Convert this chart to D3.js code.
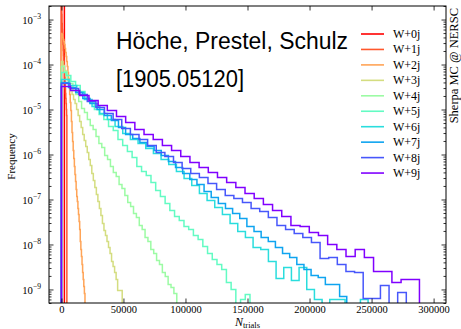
<!DOCTYPE html>
<html>
<head>
<meta charset="utf-8">
<script src="https://cdn.jsdelivr.net/npm/d3@7/dist/d3.min.js"></script>
<style>
  body { margin: 0; background: #fff; }
  svg { display: block; }
</style>
</head>
<body>
<div id="chart"></div>
<script>
// legend names, one histogram per jet multiplicity
var seriesLabels = ["W+0j", "W+1j", "W+2j", "W+3j", "W+4j", "W+5j", "W+6j", "W+7j", "W+8j", "W+9j"];

// bin width (in N_trials) of each histogram, all start at 0
var binWidths = [240, 220, 475, 1225, 2325, 3800, 6180, 5750, 6950, 7400];

// frequency per bin (0 = empty bin)
var freqW0 = [1.4e-2, 9.5e-3, 7.2e-3, 5.8e-3, 4.9e-3, 4.2e-3, 3.7e-3, 3.2e-3, 2.8e-3, 2.4e-3];
var freqW1 = [2.15e-3, 1.29e-3, 8.15e-4, 6.0e-4, 4.89e-4, 3.59e-4, 2.78e-4, 2.05e-4, 1.58e-4, 1.23e-4,
    9.03e-5, 6.99e-5, 5.14e-5, 3.98e-5, 2.93e-5, 2.27e-5, 1.76e-5, 1.36e-5, 1.0e-5, 7.36e-6];
var freqW2 = [4.89e-4, 4.64e-4, 3.98e-4, 3.59e-4, 3.24e-4, 2.78e-4, 2.27e-4, 1.85e-4, 1.51e-4, 1.17e-4,
    9.03e-5, 6.65e-5, 4.89e-5, 3.41e-5, 2.15e-5, 1.43e-5, 9.5e-6, 5.41e-6, 3.08e-6, 1.95e-6,
    1.23e-6, 8.15e-7, 5.41e-7, 3.59e-7, 2.51e-7, 1.67e-7, 1.17e-7, 9.03e-8, 6.31e-8, 4.64e-8,
    3.24e-8, 2.15e-8, 1.17e-8, 7.74e-9, 5.41e-9, 3.59e-9, 2.39e-9, 1.67e-9, 1.17e-9, 8.15e-10];
var freqW3 = [1.17e-4, 9.5e-5, 7.36e-5, 5.70e-5, 4.41e-5, 3.41e-5, 2.64e-5, 2.15e-5, 1.67e-5, 1.36e-5,
    1.0e-5, 7.36e-6, 5.41e-6, 3.98e-6, 2.78e-6, 2.05e-6, 1.51e-6, 1.11e-6, 7.74e-7, 5.70e-7,
    3.78e-7, 2.64e-7, 1.85e-7, 1.29e-7, 9.03e-8, 6.31e-8, 4.41e-8, 2.93e-8, 2.05e-8, 1.58e-8,
    1.17e-8, 8.58e-9, 6.31e-9, 4.19e-9, 3.24e-9, 2.39e-9, 1.67e-9, 9.5e-10, 9.5e-10, 9.5e-10];
var freqW4 = [9.03e-5, 6.99e-5, 4.64e-5, 3.78e-5, 2.64e-5, 2.15e-5, 1.51e-5, 1.05e-5, 8.58e-6, 6.0e-6,
    4.41e-6, 3.59e-6, 2.51e-6, 1.76e-6, 1.43e-6, 9.5e-7, 7.74e-7, 5.41e-7, 3.98e-7, 3.24e-7,
    2.15e-7, 1.76e-7, 1.23e-7, 8.58e-8, 6.99e-8, 4.89e-8, 3.98e-8, 2.64e-8, 2.15e-8, 1.43e-8,
    1.17e-8, 7.74e-9, 6.31e-9, 4.41e-9, 3.59e-9, 2.39e-9, 1.95e-9, 1.29e-9, 1.11e-9, 8.15e-10];
var freqW5 = [6.65e-5, 5.70e-5, 4.19e-5, 3.41e-5, 2.51e-5, 1.76e-5, 1.43e-5, 1.0e-5, 7.74e-6, 6.0e-6,
    4.19e-6, 3.41e-6, 2.15e-6, 1.58e-6, 1.17e-6, 8.58e-7, 5.41e-7, 4.19e-7, 3.41e-7, 2.39e-7,
    1.58e-7, 1.17e-7, 8.15e-8, 5.70e-8, 4.19e-8, 3.41e-8, 2.51e-8, 2.15e-8, 1.58e-8, 1.29e-8,
    9.03e-9, 6.31e-9, 4.64e-9, 3.59e-9, 2.78e-9, 1.43e-9, 1.0e-9, 0, 6.0e-10, 7.74e-10];
var freqW6 = [4.64e-5, 3.41e-5, 2.39e-5, 1.67e-5, 1.17e-5, 8.15e-6, 6.0e-6, 4.19e-6, 2.93e-6, 2.15e-6,
    1.76e-6, 1.36e-6, 1.05e-6, 7.74e-7, 6.0e-7, 4.19e-7, 2.93e-7, 2.05e-7, 1.36e-7, 9.5e-8,
    6.65e-8, 4.64e-8, 2.93e-8, 1.95e-8, 1.43e-8, 8.58e-9, 7.74e-9, 4.19e-9, 1.76e-9, 3.08e-9,
    1.58e-9, 3.08e-9, 1.0e-9, 6.0e-10, 0, 6.0e-10, 6.0e-10, 0, 0, 6.0e-10];
var freqW7 = [3.98e-5, 3.08e-5, 2.39e-5, 1.76e-5, 1.36e-5, 1.0e-5, 7.36e-6, 5.70e-6, 3.98e-6, 2.78e-6,
    2.27e-6, 1.85e-6, 1.51e-6, 1.23e-6, 9.5e-7, 6.99e-7, 5.14e-7, 3.78e-7, 2.78e-7, 2.15e-7,
    1.51e-7, 1.11e-7, 8.15e-8, 6.31e-8, 4.89e-8, 3.78e-8, 2.51e-8, 1.95e-8, 1.43e-8, 1.17e-8,
    8.58e-9, 6.31e-9, 5.14e-9, 3.59e-9, 2.78e-9, 2.05e-9, 1.85e-9, 1.29e-9, 1.29e-9, 6.99e-10];
var freqW8 = [3.78e-5, 2.93e-5, 2.15e-5, 1.51e-5, 1.11e-5, 8.15e-6, 6.0e-6, 3.78e-6, 2.78e-6, 2.15e-6,
    1.58e-6, 1.11e-6, 9.03e-7, 6.65e-7, 4.89e-7, 3.78e-7, 3.08e-7, 2.27e-7, 1.67e-7, 1.23e-7,
    1.05e-7, 8.58e-8, 6.31e-8, 5.41e-8, 3.98e-8, 2.64e-8, 2.15e-8, 1.76e-8, 1.43e-8, 1.11e-8,
    4.89e-9, 5.14e-9, 3.59e-9, 2.51e-9, 2.39e-9, 6.31e-10, 6.31e-10, 1.23e-9, 0, 8.58e-10];
var freqW9 = [3.24e-5, 2.64e-5, 2.05e-5, 1.58e-5, 1.23e-5, 9.5e-6, 7.0e-6, 5.14e-6, 3.59e-6, 2.78e-6,
    2.15e-6, 1.58e-6, 1.23e-6, 9.03e-7, 6.65e-7, 5.14e-7, 3.98e-7, 3.08e-7, 2.39e-7, 1.85e-7,
    1.36e-7, 1.05e-7, 7.74e-8, 5.70e-8, 4.19e-8, 2.64e-8, 2.51e-8, 1.85e-8, 1.58e-8, 1.0e-8,
    7.74e-9, 5.41e-9, 7.74e-9, 5.14e-9, 2.51e-9, 2.51e-9, 1.43e-9, 1.67e-9, 1.67e-9];

var allFreqs = [freqW0, freqW1, freqW2, freqW3, freqW4, freqW5, freqW6, freqW7, freqW8, freqW9];

var xTicks = [0, 50000, 100000, 150000, 200000, 250000, 300000];
var yTicks = [1e-9, 1e-8, 1e-7, 1e-6, 1e-5, 1e-4, 1e-3];
var xDomain = [-10000, 310000];
var yDomain = [5e-10, 2e-3];

// matplotlib "rainbow", reversed
var colors = ["#ff0000", "#ff572c", "#ffa457", "#d4dd80", "#9cfba4",
              "#63fbc3", "#2adddd", "#0ea4f0", "#4757fb", "#8000ff"];

var W = 461, H = 329;
var margin = { top: 6, right: 15, bottom: 26, left: 49 },
    width = W - margin.left - margin.right,
    height = H - margin.top - margin.bottom;

var svg = d3.select("#chart").append("svg")
    .attr("width", W)
    .attr("height", H)
    .style("background", "#fff");

var g = svg.append("g")
    .attr("transform", "translate(" + margin.left + "," + margin.top + ")");

var x = d3.scaleLinear().domain(xDomain).range([0, width]);
var y = d3.scaleLog().domain(yDomain).range([height, 0]);

g.append("clipPath").attr("id", "plotclip")
    .append("rect").attr("width", width).attr("height", height);

// step outline like histtype='step'
function stepPoints(values, bw) {
    var below = height + 20;
    var pts = [[x(0), below]];
    values.forEach(function (v, k) {
        var yy = v > 0 ? y(v) : below;
        pts.push([x(k * bw), yy]);
        pts.push([x((k + 1) * bw), yy]);
    });
    pts.push([x(values.length * bw), below]);
    return pts;
}

var plot = g.append("g").attr("clip-path", "url(#plotclip)");
allFreqs.forEach(function (vals, i) {
    plot.append("path")
        .attr("d", d3.line()(stepPoints(vals, binWidths[i])))
        .attr("fill", "none")
        .attr("stroke", colors[i])
        .attr("stroke-width", 1.5)
        .attr("stroke-linejoin", "miter");
});

// minor log ticks
var minorTicks = [];
for (var e = -10; e <= -3; e++) {
    for (var m = 2; m <= 9; m++) {
        var v = m * Math.pow(10, e);
        if (v >= yDomain[0] && v <= yDomain[1]) minorTicks.push(v);
    }
}

var serif = "'Liberation Serif', 'DejaVu Serif', serif";

function styleAxis(sel) {
    sel.select(".domain").remove();
    sel.selectAll(".tick line").attr("stroke", "#000").attr("stroke-width", 0.8);
    sel.selectAll("text").attr("font-family", serif).attr("fill", "#000");
}

// bottom
var gx = g.append("g").attr("transform", "translate(0," + height + ")")
    .call(d3.axisBottom(x).tickValues(xTicks).tickSize(-4.5).tickPadding(2.5).tickFormat(d3.format("d")));
styleAxis(gx);
gx.selectAll("text").attr("font-size", "10.5px");

// top
var gxt = g.append("g")
    .call(d3.axisTop(x).tickValues(xTicks).tickSize(-4.5).tickFormat(""));
styleAxis(gxt);

// left, major + minor
var gy = g.append("g")
    .call(d3.axisLeft(y).tickValues(yTicks).tickSize(-4.5).tickPadding(8).tickFormat(function () { return ""; }));
styleAxis(gy);
gy.selectAll(".tick text").each(function (d) {
    var t = d3.select(this);
    t.attr("dy", "0.36em");
    t.append("tspan").attr("font-size", "10.7px").text("10");
    t.append("tspan").attr("font-size", "7.6px").attr("dy", "-0.62em")
        .text("\u2212" + Math.round(-Math.log10(d)));
});
var gym = g.append("g")
    .call(d3.axisLeft(y).tickValues(minorTicks).tickSize(-2.5).tickFormat(""));
styleAxis(gym);

// right, major + minor
var gr = g.append("g").attr("transform", "translate(" + width + ",0)")
    .call(d3.axisRight(y).tickValues(yTicks).tickSize(-4.5).tickFormat(""));
styleAxis(gr);
var grm = g.append("g").attr("transform", "translate(" + width + ",0)")
    .call(d3.axisRight(y).tickValues(minorTicks).tickSize(-2.5).tickFormat(""));
styleAxis(grm);

// frame
g.append("rect")
    .attr("width", width).attr("height", height)
    .attr("fill", "none").attr("stroke", "#000").attr("stroke-width", 1);

// axis labels
svg.append("text")
    .attr("transform", "translate(15," + (margin.top + height / 2 + 2) + ") rotate(-90)")
    .attr("text-anchor", "middle")
    .attr("font-family", serif).attr("font-size", "11px")
    .text("Frequency");

var xl = svg.append("text")
    .attr("x", margin.left + width / 2)
    .attr("y", 326)
    .attr("text-anchor", "middle")
    .attr("font-family", serif);
xl.append("tspan").attr("font-size", "12px").attr("font-style", "italic").text("N");
xl.append("tspan").attr("font-size", "8.5px").attr("dy", "2").text("trials");

// title text inside the plot
var sans = "'Liberation Sans', Arial, sans-serif";
svg.append("text").attr("x", 116).attr("y", 48.5)
    .attr("font-family", sans).attr("font-size", "23px")
    .attr("textLength", 232).attr("lengthAdjust", "spacingAndGlyphs")
    .text("Höche, Prestel, Schulz");
svg.append("text").attr("x", 116).attr("y", 86.5)
    .attr("font-family", sans).attr("font-size", "23px")
    .attr("textLength", 128).attr("lengthAdjust", "spacingAndGlyphs")
    .text("[1905.05120]");

// right side credit
svg.append("text")
    .attr("transform", "translate(457.5,8) rotate(-90)")
    .attr("text-anchor", "end")
    .attr("font-family", serif).attr("font-size", "12.5px")
    .text("Sherpa MC @ NERSC");

// legend
var legend = svg.append("g");
seriesLabels.forEach(function (name, i) {
    var ly = 34 + i * 15.45;
    legend.append("line")
        .attr("x1", 361).attr("x2", 384)
        .attr("y1", ly).attr("y2", ly)
        .attr("stroke", colors[i]).attr("stroke-width", 1.6);
    legend.append("text")
        .attr("x", 393).attr("y", ly + 4)
        .attr("font-family", serif).attr("font-size", "12px")
        .text(name);
});
</script>
</body>
</html>
